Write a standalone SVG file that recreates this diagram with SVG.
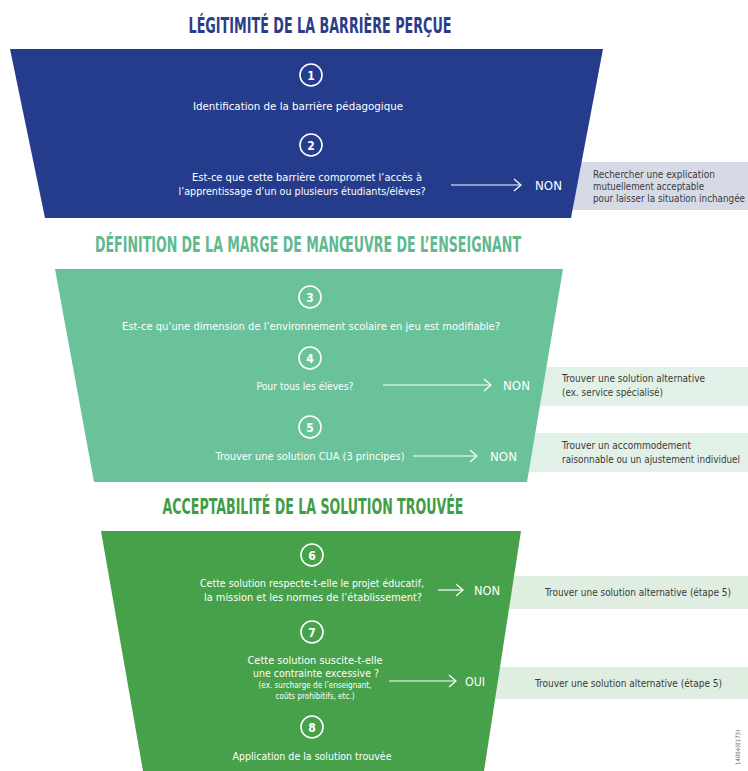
<svg xmlns="http://www.w3.org/2000/svg" width="748" height="771" viewBox="0 0 748 771">
<defs>
<style>
.title{font-family:"Liberation Sans Narrow","DejaVu Sans Condensed","Liberation Sans",sans-serif;font-weight:bold;font-size:22px;text-anchor:middle}
.body{font-family:"Liberation Sans Narrow","DejaVu Sans Condensed","Liberation Sans",sans-serif;font-size:11px;fill:#ffffff;text-anchor:middle}
.small{font-size:8.5px}
.lbl{font-family:"Liberation Sans Narrow","DejaVu Sans Condensed","Liberation Sans",sans-serif;font-size:12px;fill:#ffffff}
.box{font-family:"Liberation Sans Narrow","DejaVu Sans Condensed","Liberation Sans",sans-serif;font-size:10.5px;fill:#3a3a3a}
.num{font-family:"DejaVu Sans Condensed","Liberation Sans",sans-serif;font-weight:bold;font-size:12px;fill:#ffffff;text-anchor:middle}
.ring{fill:none;stroke:#ffffff;stroke-width:1.6}
.arrow{stroke:#ffffff;stroke-width:1.2;fill:none;marker-end:url(#chev)}
</style>
<marker id="chev" markerUnits="userSpaceOnUse" markerWidth="10" markerHeight="16" refX="8" refY="7" orient="auto">
<path d="M1,1 L8,7 L1,13" fill="none" stroke="#ffffff" stroke-width="1.2"/>
</marker>
</defs>

<!-- outcome boxes (behind funnels) -->
<g id="out1"><rect x="570" y="162" width="178" height="48" fill="#d6dae6"/>
<text class="box" x="593" y="178" textLength="122" lengthAdjust="spacingAndGlyphs">Rechercher une explication</text>
<text class="box" x="593" y="190" textLength="111" lengthAdjust="spacingAndGlyphs">mutuellement acceptable</text>
<text class="box" x="593" y="202" textLength="152" lengthAdjust="spacingAndGlyphs">pour laisser la situation inchangée</text></g>
<g id="out4"><rect x="530" y="367" width="218" height="39" fill="#e2f1e8"/>
<text class="box" x="562" y="382" textLength="143" lengthAdjust="spacingAndGlyphs">Trouver une solution alternative</text>
<text class="box" x="562" y="396" textLength="101" lengthAdjust="spacingAndGlyphs">(ex. service spécialisé)</text></g>
<g id="out5"><rect x="525" y="433" width="223" height="39" fill="#e2f1e8"/>
<text class="box" x="562" y="449" textLength="129" lengthAdjust="spacingAndGlyphs">Trouver un accommodement</text>
<text class="box" x="562" y="463" textLength="178" lengthAdjust="spacingAndGlyphs">raisonnable ou un ajustement individuel</text></g>
<g id="out6"><rect x="505" y="576" width="243" height="33" fill="#dfeee0"/>
<text class="box" x="545" y="596" textLength="186" lengthAdjust="spacingAndGlyphs">Trouver une solution alternative (étape 5)</text></g>
<g id="out7"><rect x="490" y="667" width="258" height="32" fill="#dfeee0"/>
<text class="box" x="535" y="687" textLength="187" lengthAdjust="spacingAndGlyphs">Trouver une solution alternative (étape 5)</text></g>

<!-- section 1 -->
<g id="section1">
<text class="title" x="320" y="33" fill="#2b3c8b" textLength="263" lengthAdjust="spacingAndGlyphs">LÉGITIMITÉ DE LA BARRIÈRE PERÇUE</text>
<polygon points="10,49 603,49 571,218 45,218" fill="#253c8c"/>
</g>
<g id="step1"><circle class="ring" cx="311" cy="75" r="11"/><text class="num" x="311" y="79.5">1</text>
<text class="body" x="298" y="110" textLength="210" lengthAdjust="spacingAndGlyphs">Identification de la barrière pédagogique</text></g>
<g id="step2"><circle class="ring" cx="311" cy="145" r="11"/><text class="num" x="311" y="149.5">2</text>
<text class="body" x="307" y="181" textLength="230" lengthAdjust="spacingAndGlyphs">Est-ce que cette barrière compromet l’accès à</text>
<text class="body" x="302" y="195" textLength="247" lengthAdjust="spacingAndGlyphs">l’apprentissage d’un ou plusieurs étudiants/élèves?</text></g>

<!-- section 2 -->
<g id="section2">
<text class="title" x="308" y="252" fill="#60b98f" textLength="426" lengthAdjust="spacingAndGlyphs">DÉFINITION DE LA MARGE DE MANŒUVRE DE L’ENSEIGNANT</text>
<polygon points="55,269 563,269 527,482 94,482" fill="#69c29a"/>
</g>
<g id="step3"><circle class="ring" cx="310" cy="297" r="11"/><text class="num" x="310" y="301.5">3</text>
<text class="body" x="311" y="330" textLength="378" lengthAdjust="spacingAndGlyphs">Est-ce qu’une dimension de l’environnement scolaire en jeu est modifiable?</text></g>
<g id="step4"><circle class="ring" cx="310" cy="358" r="11"/><text class="num" x="310" y="362.5">4</text>
<text class="body" x="305" y="390" textLength="97" lengthAdjust="spacingAndGlyphs">Pour tous les élèves?</text></g>
<g id="step5"><circle class="ring" cx="310" cy="427" r="11"/><text class="num" x="310" y="431.5">5</text>
<text class="body" x="310" y="460" textLength="189" lengthAdjust="spacingAndGlyphs">Trouver une solution CUA (3 principes)</text></g>

<!-- section 3 -->
<g id="section3">
<text class="title" x="313" y="514" fill="#419c45" textLength="301" lengthAdjust="spacingAndGlyphs">ACCEPTABILITÉ DE LA SOLUTION TROUVÉE</text>
<polygon points="101,531 521,531 484,771 143,771" fill="#47a04a"/>
</g>
<g id="step6"><circle class="ring" cx="312" cy="555" r="11"/><text class="num" x="312" y="559.5">6</text>
<text class="body" x="312" y="587" textLength="224" lengthAdjust="spacingAndGlyphs">Cette solution respecte-t-elle le projet éducatif,</text>
<text class="body" x="313" y="601" textLength="218" lengthAdjust="spacingAndGlyphs">la mission et les normes de l’établissement?</text></g>
<g id="step7"><circle class="ring" cx="312" cy="632" r="11"/><text class="num" x="312" y="636.5">7</text>
<text class="body" x="315" y="664" textLength="135" lengthAdjust="spacingAndGlyphs">Cette solution suscite-t-elle</text>
<text class="body" x="316" y="677" textLength="126" lengthAdjust="spacingAndGlyphs">une contrainte excessive ?</text>
<text class="body small" x="315" y="688" textLength="113" lengthAdjust="spacingAndGlyphs">(ex. surcharge de l’enseignant,</text>
<text class="body small" x="315" y="699" textLength="79" lengthAdjust="spacingAndGlyphs">coûts prohibitifs, etc.)</text></g>
<g id="step8"><circle class="ring" cx="312" cy="727" r="11"/><text class="num" x="312" y="731.5">8</text>
<text class="body" x="312" y="760" textLength="159" lengthAdjust="spacingAndGlyphs">Application de la solution trouvée</text></g>

<!-- connectors -->
<g id="connectors">
<line class="arrow" x1="451" y1="185" x2="521" y2="185"/>
<text class="lbl" x="535" y="190" textLength="27" lengthAdjust="spacingAndGlyphs">NON</text>
<line class="arrow" x1="383" y1="385" x2="491" y2="385"/>
<text class="lbl" x="503" y="390" textLength="27" lengthAdjust="spacingAndGlyphs">NON</text>
<line class="arrow" x1="413" y1="456" x2="477" y2="456"/>
<text class="lbl" x="490" y="461" textLength="27" lengthAdjust="spacingAndGlyphs">NON</text>
<line class="arrow" x1="438" y1="590" x2="463" y2="590"/>
<text class="lbl" x="474" y="595" textLength="26" lengthAdjust="spacingAndGlyphs">NON</text>
<line class="arrow" x1="389" y1="681" x2="456" y2="681"/>
<text class="lbl" x="465" y="686" textLength="20" lengthAdjust="spacingAndGlyphs">OUI</text>
</g>

<text x="740" y="765" transform="rotate(-90 740 765)" font-family="Liberation Sans Narrow, DejaVu Sans Condensed, sans-serif" font-size="6" fill="#666666">14004(0173)</text>
</svg>
